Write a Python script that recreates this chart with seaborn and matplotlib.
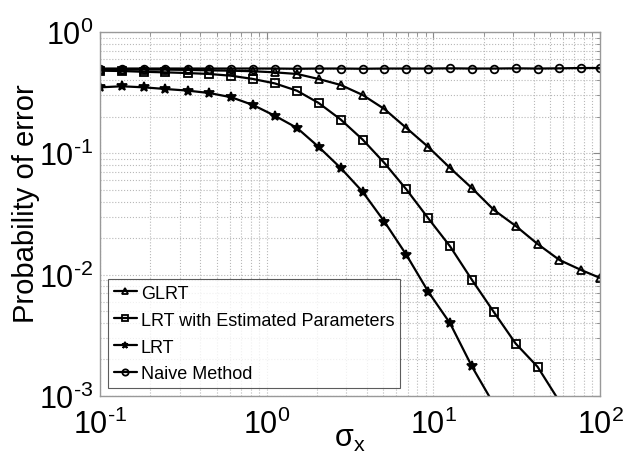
import numpy as np
import pandas as pd
import matplotlib
matplotlib.use("Agg")
import matplotlib.pyplot as plt
import seaborn as sns
from matplotlib.ticker import LogLocator, NullFormatter, FuncFormatter

# sigma_x values (24 log-spaced points)
sigma_x = [0.1, 0.135, 0.183, 0.247, 0.335, 0.453, 0.613, 0.829, 1.12, 1.52,
           2.05, 2.78, 3.76, 5.08, 6.88, 9.31, 12.6, 17.0, 23.1, 31.2,
           42.2, 57.1, 77.3, 100.0]

glrt = [0.49, 0.49, 0.49, 0.49, 0.487, 0.483, 0.48, 0.475, 0.465, 0.451,
        0.41, 0.366, 0.303, 0.232, 0.162, 0.113, 0.0757, 0.0518, 0.0341, 0.0252,
        0.0179, 0.0132, 0.0109, 0.0094]
lrt_est = [0.48, 0.477, 0.47, 0.465, 0.459, 0.451, 0.436, 0.41, 0.377, 0.328,
           0.26, 0.19, 0.13, 0.0834, 0.0505, 0.0292, 0.0171, 0.0091, 0.0049, 0.0027,
           0.00174, 0.0009, 0.0005, 0.00028]
lrt = [0.35, 0.357, 0.35, 0.339, 0.329, 0.314, 0.29, 0.25, 0.204, 0.162,
       0.113, 0.0757, 0.0483, 0.0274, 0.0146, 0.00725, 0.00397, 0.00176, 0.00085, 0.0004,
       0.00018, 0.00008, 0.00004, 0.00002]
naive = [0.5, 0.5, 0.5, 0.5, 0.5, 0.5, 0.5, 0.5, 0.5, 0.498,
         0.5, 0.5, 0.498, 0.5, 0.5, 0.5, 0.502, 0.5, 0.5, 0.502,
         0.5, 0.502, 0.505, 0.505]

names = ["GLRT", "LRT with Estimated Parameters", "LRT", "Naive Method"]

df = pd.concat([
    pd.DataFrame({"sigma": sigma_x, "pe": vals, "method": nm})
    for nm, vals in zip(names, [glrt, lrt_est, lrt, naive])
])

sns.set_style("white")
plt.rcParams["font.family"] = ["Liberation Sans", "DejaVu Sans"]
plt.rcParams["mathtext.fontset"] = "custom"
plt.rcParams["mathtext.rm"] = "Liberation Sans"
plt.rcParams["mathtext.it"] = "Liberation Sans:italic"
plt.rcParams["mathtext.sf"] = "Liberation Sans"
plt.rcParams["text.color"] = "black"
plt.rcParams["axes.labelcolor"] = "black"

fig = plt.figure(figsize=(6.37, 4.56), dpi=100)
ax = fig.add_axes([0.157, 0.1294, 0.785, 0.7982])

marks = {"GLRT": "^", "LRT with Estimated Parameters": "s", "LRT": "*", "Naive Method": "o"}
sns.lineplot(data=df, x="sigma", y="pe", hue="method", style="method",
             hue_order=names, style_order=names,
             palette=["black"] * 4, markers=marks, dashes=False,
             linewidth=1.6, markersize=5.5, ax=ax)

# open markers except the star
for ln in ax.lines:
    if ln.get_marker() in ("^", "s", "o"):
        ln.set_markerfacecolor("none")
    ln.set_markeredgecolor("black")
    ln.set_markeredgewidth(1.3)
    if ln.get_marker() == "*":
        ln.set_markersize(7)
        ln.set_markerfacecolor("black")

ax.set_xscale("log")
ax.set_yscale("log")
ax.set_xlim(0.1, 100)
ax.set_ylim(1e-3, 1)


def pow_label(v, pos):
    e = int(round(np.log10(v)))
    if e < 0:
        return r"$\mathrm{10^{\text{-}%d}}$" % (-e)
    return r"$\mathrm{10^{%d}}$" % e


ax.xaxis.set_major_locator(LogLocator(base=10, numticks=10))
ax.yaxis.set_major_locator(LogLocator(base=10, numticks=10))
ax.xaxis.set_major_formatter(FuncFormatter(pow_label))
ax.yaxis.set_major_formatter(FuncFormatter(pow_label))
ax.xaxis.set_minor_locator(LogLocator(base=10, subs=np.arange(2, 10), numticks=20))
ax.yaxis.set_minor_locator(LogLocator(base=10, subs=np.arange(2, 10), numticks=20))
ax.xaxis.set_minor_formatter(NullFormatter())
ax.yaxis.set_minor_formatter(NullFormatter())

ax.grid(True, which="both", linestyle=":", color="#b8b8b8", linewidth=0.8)
ax.tick_params(which="both", direction="in", color="#888888", top=True, right=True,
               labelcolor="black")
ax.tick_params(which="major", length=5, labelsize=22)
ax.tick_params(axis="x", which="major", pad=9)
ax.tick_params(axis="y", which="major", pad=5)
ax.tick_params(which="minor", length=3)
for s in ax.spines.values():
    s.set_color("#999999")
    s.set_linewidth(1)

ax.set_xlabel(r"$\mathrm{\sigma_x}$", fontsize=22, labelpad=-12)
ax.set_ylabel("Probability of error", fontsize=21)
ax.yaxis.set_label_coords(-0.12, 0.53)

handles, labels = ax.get_legend_handles_labels()
leg = ax.legend(handles, labels, loc="lower left", fontsize=13, frameon=True,
                fancybox=False, handlelength=1.3, handletextpad=0.2,
                labelspacing=0.55, borderaxespad=0.45, borderpad=0.3)
leg.get_frame().set_edgecolor("#333333")
leg.get_frame().set_linewidth(0.8)
for h in leg.legend_handles:
    h.set_markersize(4.5)
    h.set_linewidth(1.6)

fig.savefig("out.png", dpi=100)
